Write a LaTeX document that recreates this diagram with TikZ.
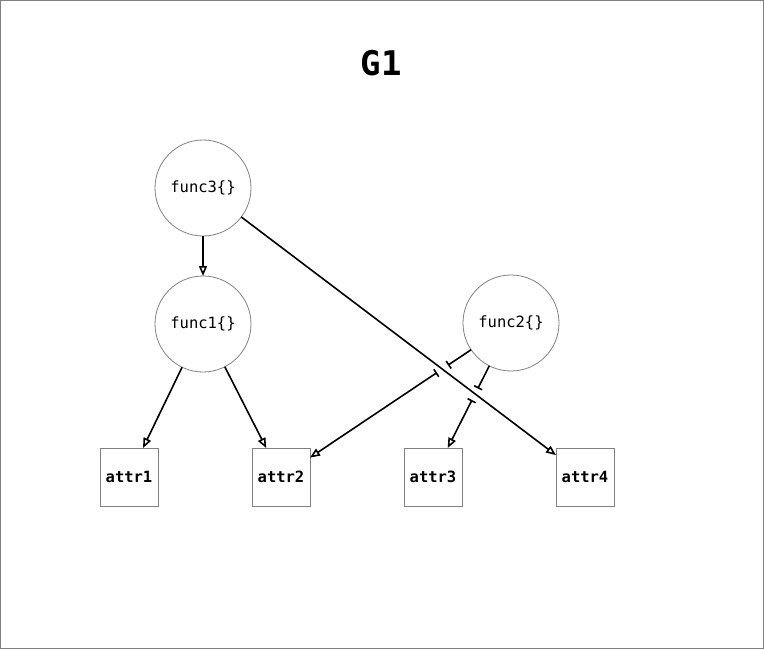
\documentclass[tikz,border=0pt]{standalone}
\usepackage{fontspec}
\setmonofont{DejaVu Sans Mono}
\usepackage{tikz}
\usetikzlibrary{arrows.meta, calc, positioning}

\tikzset{
  func/.style={circle, draw=black!50, line width=0.8pt, minimum size=96pt, inner sep=0pt, outer sep=0pt,
    font=\ttfamily\fontsize{15.5}{18}\selectfont},
  attr/.style={rectangle, draw=black!50, line width=0.8pt, minimum size=58pt, inner sep=0pt, outer sep=0pt,
    font=\ttfamily\bfseries\fontsize{15.5}{18}\selectfont},
  link/.style={line width=1.6pt, -{Triangle[open, length=10pt, width=8pt]}},
  cut/.style={line width=1.6pt, -{Bar[width=9pt]}},
  resume/.style={line width=1.6pt, {Bar[width=9pt]}-{Triangle[open, length=10pt, width=8pt]}}
}

\begin{document}
\begin{tikzpicture}[x=1pt, y=-1pt]
  \useasboundingbox (0,0) rectangle (764,649);
  \draw[black!50, line width=0.8pt] (0.5,0.5) rectangle (763.5,648.5);
  \node[font=\ttfamily\bfseries\fontsize{34}{40}\selectfont] (title) at (381,63) {G1};
  \node[func] (func3) at (203,188) {func3\{\}};
  \node[func] (func1) at (203,324) {func1\{\}};
  \node[func] (func2) at (511,323) {func2\{\}};
  \node[attr] (attr1) at (129,477) {attr1};
  \node[attr] (attr2) at (281,477) {attr2};
  \node[attr] (attr3) at (433,477) {attr3};
  \node[attr] (attr4) at (585,477) {attr4};
  % gaps where the func2 links cross func3 -> attr4
  \coordinate (gap2a) at ($(func2)!0.274!(attr2)$);
  \coordinate (gap2b) at ($(func2)!0.322!(attr2)$);
  \coordinate (gap3a) at ($(func2)!0.425!(attr3)$);
  \coordinate (gap3b) at ($(func2)!0.500!(attr3)$);
  \draw[link] (func3) -- (func1);
  \draw[link] (func1) -- (attr1);
  \draw[link] (func1) -- (attr2);
  \draw[link] (func3) -- (attr4);
  \draw[cut] (func2) -- (gap2a);
  \draw[resume] (gap2b) -- (attr2);
  \draw[cut] (func2) -- (gap3a);
  \draw[resume] (gap3b) -- (attr3);
\end{tikzpicture}
\end{document}
